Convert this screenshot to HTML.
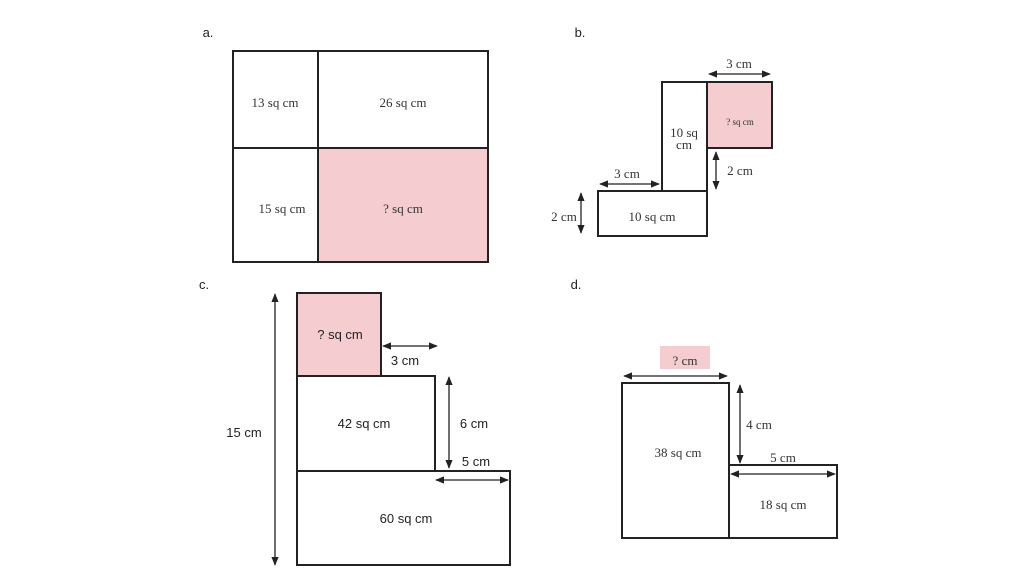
<!DOCTYPE html>
<html><head><meta charset="utf-8"><style>
html,body{margin:0;padding:0;background:#fff;}
svg{display:block}
.s{font-family:"Liberation Serif",serif;font-size:13px;fill:#333;text-anchor:middle}
.n{font-family:"Liberation Sans",sans-serif;font-size:13px;fill:#222;text-anchor:middle}
.r{fill:#fff;stroke:#222;stroke-width:2}
.p{fill:#f5cccf;stroke:#222;stroke-width:2}
.l{stroke:#222;stroke-width:1.3;fill:none}
</style></head><body>
<svg width="1024" height="576" viewBox="0 0 1024 576" xmlns="http://www.w3.org/2000/svg">
<defs>
<marker id="a" viewBox="0 0 10 10" refX="9" refY="5" markerWidth="7" markerHeight="7" orient="auto-start-reverse"><path d="M0,1 L10,5 L0,9 z" fill="#222"/></marker>
</defs>
<text class="n" x="208" y="37">a.</text>
<text class="n" x="580" y="37">b.</text>
<text class="n" x="204" y="289">c.</text>
<text class="n" x="576" y="289">d.</text>

<!-- a -->
<rect class="r" x="233" y="51" width="255" height="211"/>
<rect class="p" x="318" y="148" width="170" height="114"/>
<line class="r" x1="318" y1="51" x2="318" y2="262"/>
<line class="r" x1="233" y1="148" x2="488" y2="148"/>
<text class="s" x="275" y="107">13 sq cm</text>
<text class="s" x="403" y="107">26 sq cm</text>
<text class="s" x="282" y="213">15 sq cm</text>
<text class="s" x="403" y="213">? sq cm</text>

<!-- b -->
<rect class="r" x="662" y="82" width="45" height="109"/>
<rect class="p" x="707" y="82" width="65" height="66"/>
<rect class="r" x="598" y="191" width="109" height="45"/>
<line class="l" x1="709" y1="74" x2="770" y2="74" marker-start="url(#a)" marker-end="url(#a)"/>
<text class="s" x="739" y="68">3 cm</text>
<line class="l" x1="716" y1="152" x2="716" y2="189" marker-start="url(#a)" marker-end="url(#a)"/>
<text class="s" x="740" y="175">2 cm</text>
<line class="l" x1="600" y1="184" x2="659" y2="184" marker-start="url(#a)" marker-end="url(#a)"/>
<text class="s" x="627" y="178">3 cm</text>
<line class="l" x1="581" y1="193" x2="581" y2="233" marker-start="url(#a)" marker-end="url(#a)"/>
<text class="s" x="564" y="221">2 cm</text>
<text class="s" x="684" y="137">10 sq</text>
<text class="s" x="684" y="149">cm</text>
<text class="s" x="740" y="125" style="font-size:9px">? sq cm</text>
<text class="s" x="652" y="221">10 sq cm</text>

<!-- c -->
<rect class="p" x="297" y="293" width="84" height="83"/>
<rect class="r" x="297" y="376" width="138" height="95"/>
<rect class="r" x="297" y="471" width="213" height="94"/>
<line class="l" x1="275" y1="294" x2="275" y2="565" marker-start="url(#a)" marker-end="url(#a)"/>
<text class="n" x="244" y="437">15 cm</text>
<line class="l" x1="383" y1="346" x2="437" y2="346" marker-start="url(#a)" marker-end="url(#a)"/>
<text class="n" x="405" y="365">3 cm</text>
<line class="l" x1="449" y1="377" x2="449" y2="468" marker-start="url(#a)" marker-end="url(#a)"/>
<text class="n" x="474" y="428">6 cm</text>
<line class="l" x1="436" y1="480" x2="508" y2="480" marker-start="url(#a)" marker-end="url(#a)"/>
<text class="n" x="476" y="466">5 cm</text>
<text class="n" x="340" y="339">? sq cm</text>
<text class="n" x="364" y="428">42 sq cm</text>
<text class="n" x="406" y="523">60 sq cm</text>

<!-- d -->
<rect class="r" x="622" y="383" width="107" height="155"/>
<rect class="r" x="729" y="465" width="108" height="73"/>
<rect x="660" y="346" width="50" height="23" fill="#f5cccf"/>
<text class="s" x="685" y="365">? cm</text>
<line class="l" x1="624" y1="376" x2="727" y2="376" marker-start="url(#a)" marker-end="url(#a)"/>
<line class="l" x1="740" y1="385" x2="740" y2="463" marker-start="url(#a)" marker-end="url(#a)"/>
<text class="s" x="759" y="429">4 cm</text>
<line class="l" x1="731" y1="474" x2="835" y2="474" marker-start="url(#a)" marker-end="url(#a)"/>
<text class="s" x="783" y="462">5 cm</text>
<text class="s" x="678" y="457">38 sq cm</text>
<text class="s" x="783" y="509">18 sq cm</text>
</svg>
</body></html>
